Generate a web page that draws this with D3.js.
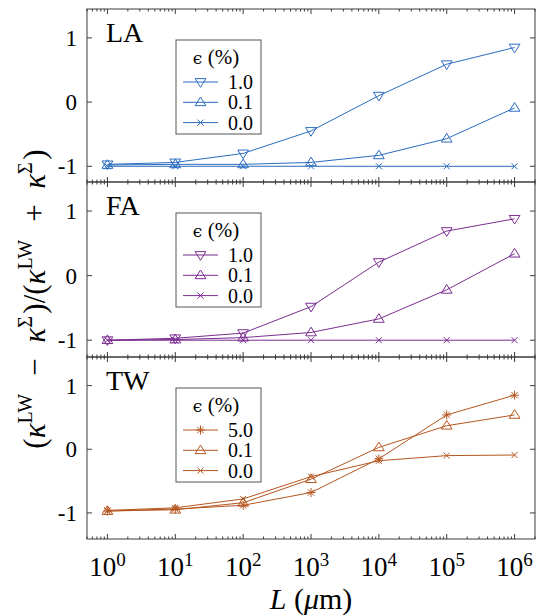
<!DOCTYPE html>
<html>
<head>
<meta charset="utf-8">
<script src="https://cdn.jsdelivr.net/npm/d3@7"></script>
<style>
  body { margin: 0; background: #fff; }
  svg { display: block; }
</style>
</head>
<body>
<div class="chart"></div>
<script>
// Data: strain levels per panel
const lengths = [1, 10, 100, 1e3, 1e4, 1e5, 1e6];

const laLabels = ["1.0", "0.1", "0.0"];
const laHigh = [-0.97, -0.94, -0.80, -0.45, 0.10, 0.59, 0.85];
const laMid = [-0.98, -0.97, -0.97, -0.94, -0.83, -0.57, -0.09];
const laZero = [-1.0, -1.0, -1.0, -1.0, -1.0, -1.0, -1.0];

const faLabels = ["1.0", "0.1", "0.0"];
const faHigh = [-1.0, -0.97, -0.89, -0.48, 0.21, 0.69, 0.88];
const faMid = [-1.0, -0.99, -0.96, -0.88, -0.67, -0.22, 0.34];
const faZero = [-1.0, -1.0, -1.0, -1.0, -1.0, -1.0, -1.0];

const twLabels = ["5.0", "0.1", "0.0"];
const twHigh = [-0.97, -0.94, -0.88, -0.68, -0.15, 0.54, 0.85];
const twMid = [-0.97, -0.95, -0.84, -0.47, 0.03, 0.37, 0.54];
const twZero = [-0.96, -0.92, -0.78, -0.43, -0.18, -0.10, -0.09];

const yTicks = [-1, 0, 1];
const xTicks = [1, 10, 100, 1e3, 1e4, 1e5, 1e6];

// Layout
const width = 540, height = 616;
const left = 87, right = 535;
const panels = [
    { name: "LA", color: "#2b6cbf", top: 9, bottom: 182, yMin: -1.245, yMax: 1.45,
      labels: laLabels, series: [laHigh, laMid, laZero], markers: ["down", "up", "x"] },
    { name: "FA", color: "#7b2d91", top: 182, bottom: 357, yMin: -1.26, yMax: 1.45,
      labels: faLabels, series: [faHigh, faMid, faZero], markers: ["down", "up", "x"] },
    { name: "TW", color: "#b5561f", top: 357, bottom: 539, yMin: -1.41, yMax: 1.45,
      labels: twLabels, series: [twHigh, twMid, twZero], markers: ["star", "up", "x"] }
];

const serif = "'Liberation Serif', 'DejaVu Serif', serif";
const frameColor = "#3a3a3a";

const svg = d3.select(".chart")
    .append("svg")
    .attr("width", width)
    .attr("height", height);

const x = d3.scaleLog().domain([0.5, 2e6]).range([left, right]);

// minor ticks for log axis
const minorTicks = [];
for (let e = -1; e <= 6; e++) {
    for (let m = 2; m <= 9; m++) {
        const v = m * Math.pow(10, e);
        if (v >= 0.5 && v <= 2e6) minorTicks.push(v);
    }
}

// marker path generator
function markerPath(type) {
    if (type === "down") {
        const w = 5.4, h = 4.8;
        return `M${-w},${-h * 0.7}L${w},${-h * 0.7}L0,${h * 1.1}Z`;
    }
    if (type === "up") {
        const w = 5.4, h = 4.8;
        return `M${-w},${h * 0.7}L${w},${h * 0.7}L0,${-h * 1.1}Z`;
    }
    if (type === "x") {
        const r = 3;
        return `M${-r},${-r}L${r},${r}M${-r},${r}L${r},${-r}`;
    }
    // asterisk
    const r = 4.5, d = 3.2;
    return `M${-r},0L${r},0M0,${-r}L0,${r}M${-d},${-d}L${d},${d}M${-d},${d}L${d},${-d}`;
}

panels.forEach(p => {
    const y = d3.scaleLinear().domain([p.yMin, p.yMax]).range([p.bottom, p.top]);
    const g = svg.append("g");

    // ticks (inward)
    g.selectAll(".xmaj")
        .data(xTicks)
        .join("path")
        .attr("d", d => `M${x(d)},${p.bottom}v-5M${x(d)},${p.top}v5`)
        .attr("stroke", frameColor)
        .attr("stroke-width", 1);
    g.selectAll(".xmin")
        .data(minorTicks)
        .join("path")
        .attr("d", d => `M${x(d)},${p.bottom}v-2.5M${x(d)},${p.top}v2.5`)
        .attr("stroke", frameColor)
        .attr("stroke-width", 1);
    g.selectAll(".ytick")
        .data(yTicks)
        .join("path")
        .attr("d", d => `M${left},${y(d)}h5M${right},${y(d)}h-5`)
        .attr("stroke", frameColor)
        .attr("stroke-width", 1);

    // y tick labels
    g.selectAll(".ylab")
        .data(yTicks)
        .join("text")
        .attr("x", 77)
        .attr("y", d => y(d))
        .attr("dy", "0.35em")
        .attr("text-anchor", "end")
        .style("font-family", serif)
        .style("font-size", "23px")
        .text(d => d === -1 ? "-1" : d);

    // series lines and markers
    const line = d3.line()
        .x((d, i) => x(lengths[i]))
        .y(d => y(d));

    p.series.forEach((vals, k) => {
        g.append("path")
            .datum(vals)
            .attr("d", line)
            .attr("fill", "none")
            .attr("stroke", p.color)
            .attr("stroke-width", 1);
        g.selectAll(null)
            .data(vals)
            .join("path")
            .attr("transform", (d, i) => `translate(${x(lengths[i])},${y(d)})`)
            .attr("d", markerPath(p.markers[k]))
            .attr("fill", "none")
            .attr("stroke", p.color)
            .attr("stroke-width", 1);
    });

    // panel frame
    g.append("rect")
        .attr("x", left)
        .attr("y", p.top)
        .attr("width", right - left)
        .attr("height", p.bottom - p.top)
        .attr("fill", "none")
        .attr("stroke", frameColor)
        .attr("stroke-width", 1);

    // panel name
    g.append("text")
        .attr("x", 106)
        .attr("y", p.top + 33)
        .style("font-family", serif)
        .style("font-size", "28px")
        .text(p.name);

    // legend
    const lg = g.append("g")
        .attr("transform", `translate(176,${p.top + 31})`);
    lg.append("rect")
        .attr("width", 85)
        .attr("height", 94)
        .attr("fill", "white")
        .attr("stroke", "#555")
        .attr("stroke-width", 1);
    const title = lg.append("text")
        .attr("x", 40)
        .attr("y", 24)
        .attr("text-anchor", "middle")
        .style("font-family", serif)
        .style("font-size", "21px");
    title.append("tspan")
        .style("font-family", "'DejaVu Serif', serif")
        .style("font-size", "17px")
        .text("\u03F5");
    title.append("tspan").text(" (%)");

    p.labels.forEach((lab, k) => {
        const ry = 42 + k * 20.3;
        lg.append("line")
            .attr("x1", 7).attr("x2", 42)
            .attr("y1", ry).attr("y2", ry)
            .attr("stroke", p.color)
            .attr("stroke-width", 1);
        lg.append("path")
            .attr("transform", `translate(24.5,${ry})`)
            .attr("d", markerPath(p.markers[k]))
            .attr("fill", "none")
            .attr("stroke", p.color)
            .attr("stroke-width", 1);
        lg.append("text")
            .attr("x", 52)
            .attr("y", ry)
            .attr("dy", "0.35em")
            .style("font-family", serif)
            .style("font-size", "20px")
            .text(lab);
    });
});

// x tick labels under the last panel
const xl = svg.append("g");
xTicks.forEach(v => {
    const t = xl.append("text")
        .attr("x", x(v))
        .attr("y", 576)
        .attr("text-anchor", "middle")
        .style("font-family", serif)
        .style("font-size", "27px");
    t.append("tspan").text("10");
    t.append("tspan")
        .attr("dy", -10)
        .style("font-size", "19px")
        .text(Math.round(Math.log10(v)));
});

// x axis title
const xt = svg.append("text")
    .attr("x", (left + right) / 2)
    .attr("y", 609)
    .attr("text-anchor", "middle")
    .style("font-family", serif)
    .style("font-size", "30px");
xt.append("tspan").style("font-style", "italic").text("L");
xt.append("tspan").text(" (");
xt.append("tspan").style("font-style", "italic").text("\u03BC");
xt.append("tspan").text("m)");

// y axis title
const yt = svg.append("text")
    .attr("transform", "translate(45,299) rotate(-90)")
    .attr("text-anchor", "middle")
    .style("font-family", serif)
    .style("font-size", "31px");
function kappa(sup) {
    yt.append("tspan").style("font-style", "italic").text("\u03BA");
    yt.append("tspan").attr("dy", -13).style("font-size", "20px").text(sup);
    yt.append("tspan").attr("dy", 13).text("\u200A");
}
yt.append("tspan").text("(");
kappa("LW");
yt.append("tspan").text("\u2002\u2212\u2002");
kappa("\u03A3");
yt.append("tspan").text(")/(");
kappa("LW");
yt.append("tspan").text("\u2002+\u2002");
kappa("\u03A3");
yt.append("tspan").text(")");
</script>
</body>
</html>
